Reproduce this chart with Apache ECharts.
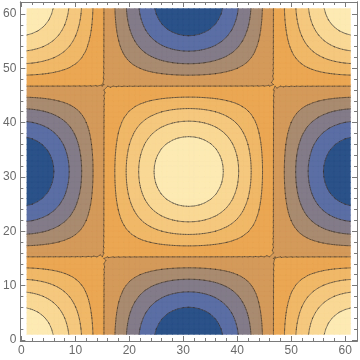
<!DOCTYPE html>
<html><head><meta charset="utf-8">
<script src="https://cdn.jsdelivr.net/npm/echarts@6/dist/echarts.min.js"></script>
<style>html,body{margin:0;padding:0;background:#fff}#c{width:360px;height:360px}</style>
</head><body><div id="c"></div>
<script>
// Profile of the field along each axis (values at grid positions 1..61)
const colProfile = [-0.990,-0.971,-0.942,-0.904,-0.857,-0.801,-0.737,-0.666,-0.589,-0.505,-0.416,-0.323,-0.227,-0.129,-0.029,0.071,0.170,0.267,0.362,0.454,0.540,0.622,0.697,0.765,0.825,0.878,0.921,0.955,0.980,0.995,1.000,0.995,0.980,0.955,0.921,0.878,0.825,0.765,0.697,0.622,0.540,0.454,0.362,0.267,0.170,0.071,-0.029,-0.129,-0.227,-0.323,-0.416,-0.505,-0.589,-0.666,-0.737,-0.801,-0.857,-0.904,-0.942,-0.971,-0.990];
const rowProfile = [-0.990,-0.971,-0.942,-0.904,-0.857,-0.801,-0.737,-0.666,-0.589,-0.505,-0.416,-0.323,-0.227,-0.129,-0.029,0.071,0.170,0.267,0.362,0.454,0.540,0.622,0.697,0.765,0.825,0.878,0.921,0.955,0.980,0.995,1.000,0.995,0.980,0.955,0.921,0.878,0.825,0.765,0.697,0.622,0.540,0.454,0.362,0.267,0.170,0.071,-0.029,-0.129,-0.227,-0.323,-0.416,-0.505,-0.589,-0.666,-0.737,-0.801,-0.857,-0.904,-0.942,-0.971,-0.990];
const contourLevels = [-0.8,-0.6,-0.4,-0.2,0,0.2,0.4,0.6,0.8];
const bandColors = ['#2b5289','#5b6ea5','#837b89','#a98b70','#d49a5a','#eba753','#f0b868','#f5c87e','#f9d895','#fdeab3'];
const majorTicks = [0,10,20,30,40,50,60];
const minorTicks = [2,4,6,8,12,14,16,18,22,24,26,28,32,34,36,38,42,44,46,48,52,54,56,58];

const xPos = colProfile.map((_, i) => i + 1);
const yPos = rowProfile.map((_, j) => j + 1);
const field = rowProfile.map(r => colProfile.map(c => r * c)); // field[j][i]

function clip(poly, t, s) {
  const out = [];
  const n = poly.length;
  for (let k = 0; k < n; k++) {
    const A = poly[k], B = poly[(k + 1) % n];
    const ina = s * (A[2] - t) >= 0, inb = s * (B[2] - t) >= 0;
    if (ina) out.push(A);
    if (ina !== inb) {
      const u = (t - A[2]) / (B[2] - A[2]);
      out.push([A[0] + u * (B[0] - A[0]), A[1] + u * (B[1] - A[1]), t]);
    }
  }
  return out;
}
const f2 = v => v.toFixed(2);

function renderItem(params, api) {
  const px = xPos.map(x => api.coord([x, 0])[0]);
  const py = yPos.map(y => api.coord([0, y])[1]);
  const bandPaths = bandColors.map(() => []);
  const linePaths = contourLevels.map(() => []);
  const nx = xPos.length, ny = yPos.length;
  for (let j = 0; j < ny - 1; j++) {
    for (let i = 0; i < nx - 1; i++) {
      const P00 = [px[i], py[j], field[j][i]];
      const P10 = [px[i + 1], py[j], field[j][i + 1]];
      const P11 = [px[i + 1], py[j + 1], field[j + 1][i + 1]];
      const P01 = [px[i], py[j + 1], field[j + 1][i]];
      const tris = [[P00, P10, P11], [P00, P11, P01]];
      for (const tri of tris) {
        const fs = tri.map(p => p[2]);
        const fmin = Math.min(...fs), fmax = Math.max(...fs);
        for (let b = 0; b < bandColors.length; b++) {
          const lo = b === 0 ? -Infinity : contourLevels[b - 1];
          const hi = b === bandColors.length - 1 ? Infinity : contourLevels[b];
          if (fmax < lo || fmin > hi) continue;
          let poly = tri;
          if (lo > -Infinity) poly = clip(poly, lo, 1);
          if (poly.length >= 3 && hi < Infinity) poly = clip(poly, hi, -1);
          if (poly.length < 3) continue;
          let s = 'M' + f2(poly[0][0]) + ' ' + f2(poly[0][1]);
          for (let k = 1; k < poly.length; k++) s += 'L' + f2(poly[k][0]) + ' ' + f2(poly[k][1]);
          bandPaths[b].push(s + 'Z');
        }
        for (let l = 0; l < contourLevels.length; l++) {
          const L = contourLevels[l];
          if (fmax < L || fmin > L) continue;
          const pts = [];
          for (let k = 0; k < 3; k++) {
            const A = tri[k], B = tri[(k + 1) % 3];
            const aa = A[2] >= L, bb = B[2] >= L;
            if (aa !== bb) {
              const u = (L - A[2]) / (B[2] - A[2]);
              pts.push([A[0] + u * (B[0] - A[0]), A[1] + u * (B[1] - A[1])]);
            }
          }
          if (pts.length === 2) linePaths[l].push('M' + f2(pts[0][0]) + ' ' + f2(pts[0][1]) + 'L' + f2(pts[1][0]) + ' ' + f2(pts[1][1]));
        }
      }
    }
  }
  const children = [];
  bandPaths.forEach((p, b) => {
    if (p.length) children.push({type: 'path', shape: {pathData: p.join('')}, style: {fill: bandColors[b], stroke: bandColors[b], lineWidth: 0.4}});
  });
  linePaths.forEach(p => {
    if (p.length) children.push({type: 'path', shape: {pathData: p.join('')}, style: {fill: null, stroke: 'rgba(45,40,35,0.6)', lineWidth: 0.9, lineCap: 'round', lineJoin: 'round'}});
  });
  return {type: 'group', children};
}

const frameColor = '#7a7a7a';
function mkAxis(pos, ticks, len, labels) {
  return {
    type: 'value', position: pos, min: -0.2, max: 62.2,
    axisLine: {show: true, onZero: false, lineStyle: {color: frameColor, width: 1}},
    axisTick: {show: true, inside: true, length: len, customValues: ticks, lineStyle: {color: frameColor, width: 1}},
    axisLabel: labels ? {show: true, customValues: ticks, color: '#6a6a6a', fontSize: 12, fontFamily: 'Liberation Sans', margin: 4} : {show: false},
    splitLine: {show: false}, minorTick: {show: false}
  };
}
const chart = echarts.init(document.getElementById('c'), null, {renderer: 'canvas'});
chart.setOption({
  animation: false,
  backgroundColor: '#ffffff',
  grid: {left: 17, right: 3, top: 2, bottom: 19, containLabel: false},
  xAxis: [mkAxis('bottom', majorTicks, 5, true), mkAxis('bottom', minorTicks, 3, false), mkAxis('top', majorTicks, 5, false), mkAxis('top', minorTicks, 3, false)],
  yAxis: [mkAxis('left', majorTicks, 5, true), mkAxis('left', minorTicks, 3, false), mkAxis('right', majorTicks, 5, false), mkAxis('right', minorTicks, 3, false)],
  series: [{
    type: 'custom', coordinateSystem: 'cartesian2d', xAxisIndex: 0, yAxisIndex: 0,
    renderItem: renderItem, data: [[31, 31]], silent: true, clip: false, z: 1
  }]
});
</script></body></html>
